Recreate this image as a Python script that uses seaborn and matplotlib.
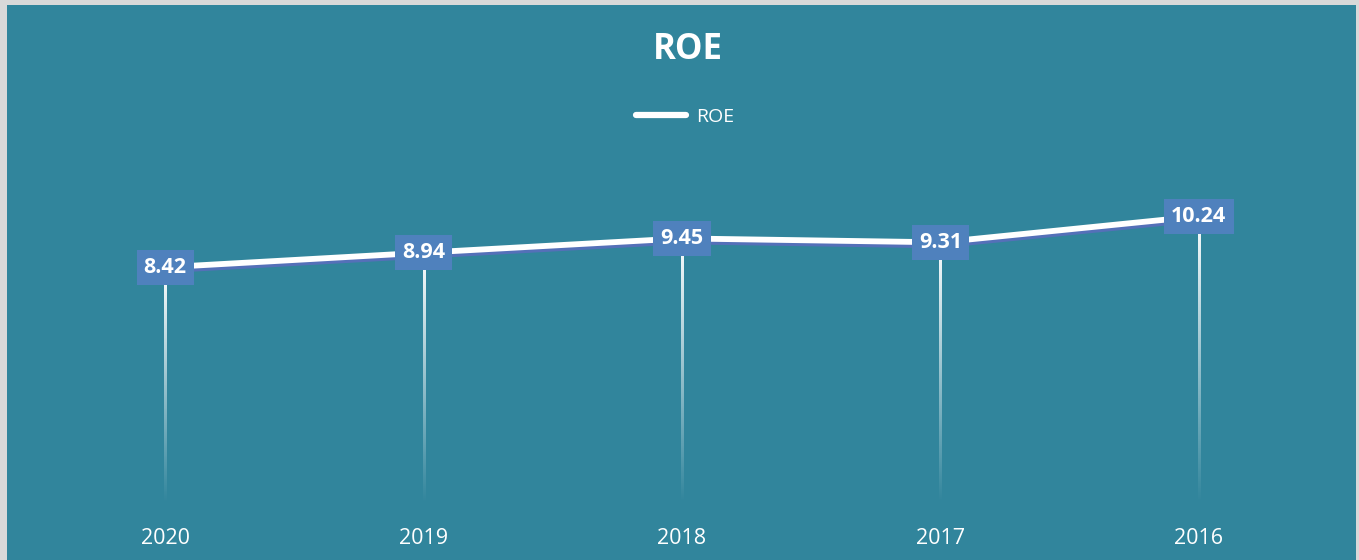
import numpy as np
import pandas as pd
import matplotlib
matplotlib.use("Agg")
import matplotlib.pyplot as plt
import seaborn as sns
from matplotlib.lines import Line2D
from matplotlib.patches import Rectangle
import matplotlib.patheffects as pe

# ---- data ----
years = ["2020", "2019", "2018", "2017", "2016"]
roe = [8.42, 8.94, 9.45, 9.31, 10.24]
series_name = "ROE"
title = "ROE"

BG = "#31859C"
LABEL_BG = "#4F81BD"
SHADOW = "#5470B8"

sns.set_theme(style="white")
plt.rcParams['font.family'] = ['Open Sans', 'DejaVu Sans']

fig = plt.figure(figsize=(13.59, 5.6), dpi=100)
fig.patch.set_facecolor("#D9D9D9")
fig.patches.append(Rectangle((7/1359, 0), (1356-7)/1359, (560-5)/560,
                             transform=fig.transFigure, facecolor=BG,
                             edgecolor="none", zorder=-10))

ax = fig.add_axes([36/1359, (560-503)/560, 1292/1359, 336/560])
ax.set_facecolor("none")
ax.set_zorder(2)

df = pd.DataFrame({"pos": np.arange(len(years)), "roe": roe})

# gradient drop lines (white fading to transparent)
grad = np.zeros((256, 1, 4))
grad[..., :3] = 1.0
grad[:, 0, 3] = np.linspace(1.0, 0.0, 256)
half_w = 1.0 / 258.0
for x, y in zip(df["pos"], df["roe"]):
    ax.imshow(grad, extent=[x - half_w, x + half_w, 0, y], origin="upper",
              aspect="auto", interpolation="bilinear", zorder=2)

sns.lineplot(data=df, x="pos", y="roe", ax=ax, color="white", linewidth=4.2,
             zorder=3, legend=False,
             path_effects=[pe.SimpleLineShadow(offset=(0, -2.2), shadow_color=SHADOW, alpha=1),
                           pe.Normal()])

for x, y in zip(df["pos"], df["roe"]):
    ax.text(x, y, f"{y:.2f}", ha="center", va="center", color="white",
            fontsize=15.5, fontweight="bold", zorder=5,
            bbox=dict(boxstyle="square,pad=0.33", facecolor=LABEL_BG, edgecolor="none"))

ax.set_xlim(-0.5, len(years) - 0.5)
ax.set_ylim(0, 12)
ax.set_xticks(df["pos"])
ax.set_xticklabels(years, color="white", fontsize=15.5)
ax.tick_params(axis="x", length=0, pad=18)
ax.set_yticks([])
ax.set_xlabel("")
ax.set_ylabel("")
for s in ax.spines.values():
    s.set_visible(False)

fig.text(688/1359, 1 - 50/560, title, ha="center", va="center", color="white",
         fontsize=25, fontweight="bold")

handle = Line2D([], [], color="white", linewidth=4.5, solid_capstyle="round")
fig.legend([handle], [series_name], loc="center", bbox_to_anchor=(685/1359, 1 - 117/560),
           frameon=False, fontsize=14, labelcolor="white", handlelength=2.6,
           handletextpad=0.5)

fig.savefig("out.png", dpi=100, facecolor=fig.get_facecolor())
